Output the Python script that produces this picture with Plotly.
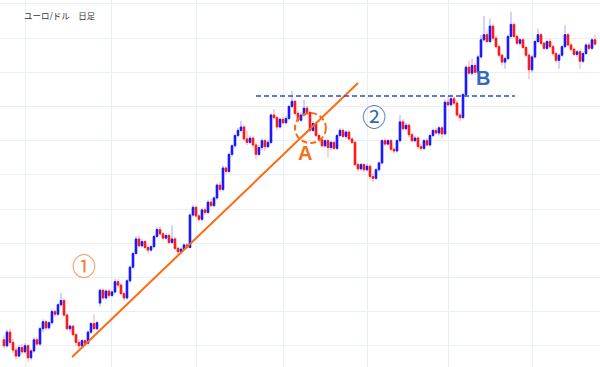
import plotly.graph_objects as go

title_text = "ユーロ/ドル　日足"

opens = [
    1.0635, 1.0600, 1.0680, 1.0620, 1.0575, 1.0540, 1.0590, 1.0565, 1.0600, 1.0530,
    1.0570, 1.0635, 1.0610, 1.0700, 1.0740, 1.0705, 1.0735, 1.0800, 1.0785, 1.0840,
    1.0865, 1.0780, 1.0700, 1.0715, 1.0665, 1.0620, 1.0600, 1.0630, 1.0615, 1.0680,
    1.0730, 1.0700, 1.0850, 1.0925, 1.0880, 1.0920, 1.0895, 1.0915, 1.0975, 1.0955,
    1.0905, 1.0880, 1.0980, 1.1060, 1.1140, 1.1225, 1.1185, 1.1210, 1.1175, 1.1160,
    1.1180, 1.1240, 1.1280, 1.1255, 1.1230, 1.1245, 1.1205, 1.1225, 1.1170, 1.1150,
    1.1165, 1.1190, 1.1175, 1.1365, 1.1410, 1.1360, 1.1340, 1.1395, 1.1380, 1.1440,
    1.1420, 1.1465, 1.1540, 1.1515, 1.1640, 1.1620, 1.1720, 1.1770, 1.1830, 1.1860,
    1.1880, 1.1810, 1.1790, 1.1815, 1.1775, 1.1720, 1.1760, 1.1800, 1.1765, 1.1790,
    1.1950, 1.1935, 1.1880, 1.1925, 1.1905, 1.1930, 1.2000, 1.2030, 1.1960, 1.1920,
    1.1950, 1.1990, 1.1965, 1.1860, 1.1900, 1.1830, 1.1805, 1.1770, 1.1800, 1.1760,
    1.1790, 1.1755, 1.1830, 1.1860, 1.1825, 1.1850, 1.1810, 1.1790, 1.1660, 1.1635,
    1.1660, 1.1630, 1.1650, 1.1590, 1.1580, 1.1630, 1.1670, 1.1800, 1.1780, 1.1800,
    1.1750, 1.1740, 1.1800, 1.1910, 1.1870, 1.1890, 1.1835, 1.1800, 1.1815, 1.1765,
    1.1755, 1.1800, 1.1775, 1.1830, 1.1860, 1.1845, 1.1875, 1.1840, 1.2025, 1.2010,
    1.2045, 1.2020, 1.1950, 1.1935, 1.2070, 1.2230, 1.2195, 1.2240, 1.2200, 1.2290,
    1.2390, 1.2420, 1.2380, 1.2470, 1.2400, 1.2350, 1.2300, 1.2260, 1.2280, 1.2410,
    1.2480, 1.2410, 1.2370, 1.2390, 1.2345, 1.2300, 1.2215, 1.2290, 1.2380, 1.2420,
    1.2370, 1.2340, 1.2380, 1.2350, 1.2310, 1.2270, 1.2300, 1.2350, 1.2420, 1.2360,
    1.2335, 1.2305, 1.2320, 1.2265, 1.2310, 1.2360, 1.2340, 1.2390,
]

highs = [
    1.0660, 1.0695, 1.0700, 1.0640, 1.0590, 1.0605, 1.0610, 1.0615, 1.0610, 1.0580,
    1.0650, 1.0650, 1.0710, 1.0755, 1.0750, 1.0745, 1.0815, 1.0810, 1.0850, 1.0910,
    1.0875, 1.0790, 1.0725, 1.0720, 1.0675, 1.0640, 1.0640, 1.0640, 1.0690, 1.0740,
    1.0785, 1.0745, 1.0935, 1.0935, 1.0930, 1.0930, 1.0925, 1.0990, 1.0990, 1.0965,
    1.0915, 1.0990, 1.1070, 1.1150, 1.1240, 1.1245, 1.1225, 1.1220, 1.1190, 1.1190,
    1.1250, 1.1295, 1.1300, 1.1265, 1.1260, 1.1255, 1.1305, 1.1235, 1.1180, 1.1175,
    1.1200, 1.1200, 1.1375, 1.1425, 1.1420, 1.1370, 1.1405, 1.1410, 1.1455, 1.1460,
    1.1475, 1.1550, 1.1560, 1.1655, 1.1650, 1.1730, 1.1780, 1.1840, 1.1875, 1.1915,
    1.1890, 1.1855, 1.1830, 1.1830, 1.1790, 1.1775, 1.1815, 1.1810, 1.1805, 1.1960,
    1.1985, 1.1945, 1.1935, 1.1940, 1.1945, 1.2010, 1.2090, 1.2040, 1.1975, 1.1965,
    1.2040, 1.2005, 1.1975, 1.1915, 1.1910, 1.1840, 1.1815, 1.1810, 1.1810, 1.1800,
    1.1800, 1.1840, 1.1875, 1.1870, 1.1860, 1.1860, 1.1820, 1.1800, 1.1670, 1.1670,
    1.1670, 1.1665, 1.1660, 1.1610, 1.1640, 1.1680, 1.1810, 1.1815, 1.1810, 1.1810,
    1.1760, 1.1810, 1.1950, 1.1925, 1.1905, 1.1900, 1.1845, 1.1830, 1.1825, 1.1780,
    1.1810, 1.1815, 1.1840, 1.1870, 1.1875, 1.1885, 1.1885, 1.2040, 1.2060, 1.2070,
    1.2060, 1.2035, 1.1960, 1.2080, 1.2240, 1.2270, 1.2280, 1.2255, 1.2300, 1.2420,
    1.2530, 1.2440, 1.2515, 1.2480, 1.2415, 1.2360, 1.2310, 1.2290, 1.2420, 1.2555,
    1.2490, 1.2420, 1.2400, 1.2400, 1.2355, 1.2310, 1.2300, 1.2390, 1.2455, 1.2430,
    1.2380, 1.2390, 1.2395, 1.2360, 1.2320, 1.2310, 1.2360, 1.2475, 1.2430, 1.2370,
    1.2345, 1.2330, 1.2330, 1.2320, 1.2370, 1.2375, 1.2400, 1.2420,
]

lows = [
    1.0585, 1.0590, 1.0605, 1.0560, 1.0520, 1.0530, 1.0550, 1.0555, 1.0505, 1.0515,
    1.0560, 1.0600, 1.0600, 1.0680, 1.0690, 1.0695, 1.0725, 1.0770, 1.0775, 1.0830,
    1.0770, 1.0690, 1.0680, 1.0655, 1.0600, 1.0580, 1.0590, 1.0600, 1.0605, 1.0670,
    1.0690, 1.0690, 1.0830, 1.0870, 1.0870, 1.0880, 1.0885, 1.0905, 1.0940, 1.0895,
    1.0860, 1.0870, 1.0970, 1.1050, 1.1130, 1.1175, 1.1175, 1.1165, 1.1140, 1.1150,
    1.1170, 1.1230, 1.1245, 1.1215, 1.1220, 1.1195, 1.1195, 1.1160, 1.1130, 1.1135,
    1.1155, 1.1165, 1.1170, 1.1355, 1.1350, 1.1325, 1.1330, 1.1365, 1.1370, 1.1410,
    1.1410, 1.1455, 1.1505, 1.1505, 1.1605, 1.1610, 1.1705, 1.1760, 1.1820, 1.1850,
    1.1800, 1.1775, 1.1780, 1.1760, 1.1690, 1.1710, 1.1745, 1.1740, 1.1755, 1.1780,
    1.1925, 1.1860, 1.1870, 1.1895, 1.1895, 1.1920, 1.1990, 1.1950, 1.1905, 1.1910,
    1.1940, 1.1950, 1.1850, 1.1850, 1.1820, 1.1790, 1.1760, 1.1760, 1.1700, 1.1745,
    1.1745, 1.1745, 1.1820, 1.1815, 1.1810, 1.1800, 1.1780, 1.1650, 1.1620, 1.1625,
    1.1615, 1.1620, 1.1575, 1.1555, 1.1570, 1.1620, 1.1660, 1.1770, 1.1770, 1.1740,
    1.1725, 1.1730, 1.1790, 1.1860, 1.1860, 1.1820, 1.1790, 1.1790, 1.1750, 1.1740,
    1.1745, 1.1765, 1.1765, 1.1820, 1.1835, 1.1830, 1.1815, 1.1830, 1.2000, 1.2000,
    1.2005, 1.1940, 1.1915, 1.1925, 1.2060, 1.2185, 1.2180, 1.2185, 1.2190, 1.2280,
    1.2380, 1.2370, 1.2370, 1.2390, 1.2340, 1.2290, 1.2240, 1.2220, 1.2270, 1.2400,
    1.2400, 1.2360, 1.2355, 1.2335, 1.2290, 1.2160, 1.2200, 1.2280, 1.2370, 1.2360,
    1.2330, 1.2330, 1.2340, 1.2295, 1.2255, 1.2220, 1.2290, 1.2340, 1.2350, 1.2320,
    1.2295, 1.2290, 1.2220, 1.2255, 1.2300, 1.2330, 1.2330, 1.2355,
]

closes = [
    1.0600, 1.0680, 1.0620, 1.0575, 1.0540, 1.0590, 1.0565, 1.0600, 1.0530, 1.0570,
    1.0635, 1.0610, 1.0700, 1.0740, 1.0705, 1.0735, 1.0800, 1.0785, 1.0840, 1.0865,
    1.0780, 1.0700, 1.0715, 1.0665, 1.0620, 1.0600, 1.0630, 1.0615, 1.0680, 1.0730,
    1.0700, 1.0735, 1.0925, 1.0880, 1.0920, 1.0895, 1.0915, 1.0975, 1.0955, 1.0905,
    1.0880, 1.0980, 1.1060, 1.1140, 1.1225, 1.1185, 1.1210, 1.1175, 1.1160, 1.1180,
    1.1240, 1.1280, 1.1255, 1.1230, 1.1245, 1.1205, 1.1225, 1.1170, 1.1150, 1.1165,
    1.1190, 1.1175, 1.1365, 1.1410, 1.1360, 1.1340, 1.1395, 1.1380, 1.1440, 1.1420,
    1.1465, 1.1540, 1.1515, 1.1640, 1.1620, 1.1720, 1.1770, 1.1830, 1.1860, 1.1880,
    1.1810, 1.1790, 1.1815, 1.1775, 1.1720, 1.1760, 1.1800, 1.1765, 1.1790, 1.1950,
    1.1935, 1.1880, 1.1925, 1.1905, 1.1930, 1.2000, 1.2030, 1.1960, 1.1920, 1.1950,
    1.1990, 1.1965, 1.1860, 1.1900, 1.1830, 1.1805, 1.1770, 1.1800, 1.1760, 1.1790,
    1.1755, 1.1830, 1.1860, 1.1825, 1.1850, 1.1810, 1.1790, 1.1660, 1.1635, 1.1660,
    1.1630, 1.1650, 1.1590, 1.1580, 1.1630, 1.1670, 1.1800, 1.1780, 1.1800, 1.1750,
    1.1740, 1.1800, 1.1910, 1.1870, 1.1890, 1.1835, 1.1800, 1.1815, 1.1765, 1.1755,
    1.1800, 1.1775, 1.1830, 1.1860, 1.1845, 1.1875, 1.1840, 1.2025, 1.2010, 1.2045,
    1.2020, 1.1950, 1.1935, 1.2070, 1.2230, 1.2195, 1.2240, 1.2200, 1.2290, 1.2390,
    1.2420, 1.2380, 1.2470, 1.2400, 1.2350, 1.2300, 1.2260, 1.2280, 1.2410, 1.2480,
    1.2410, 1.2370, 1.2390, 1.2345, 1.2300, 1.2215, 1.2290, 1.2380, 1.2420, 1.2370,
    1.2340, 1.2380, 1.2350, 1.2310, 1.2270, 1.2300, 1.2350, 1.2420, 1.2360, 1.2335,
    1.2305, 1.2320, 1.2265, 1.2310, 1.2360, 1.2340, 1.2390, 1.2365,
]

days = list(range(len(opens)))

# vertical grid positions (in candle index units) and price grid
grid_days = [7.3, 35.7, 64.3, 93, 121, 148, 176.3]
price_grid_start = 1.06
price_grid_step = 0.02

# annotation anchors (data coordinates)
trend_x = [22.7, 118.0]
trend_y = [1.0535, 1.2137]
neck_x = [84.0, 170.3]
neck_y = 1.2061
circle_x = [97.0, 107.3]
circle_y = [1.1786, 1.1962]
label_a = (100.3, 1.1728)
label_b = (159.7, 1.2167)
label_1 = (26.7, 1.1073)
label_2 = (123.3, 1.1950)

UP = "#1414ff"
DOWN = "#ff1414"
UP_WICK = "rgba(60,60,255,0.45)"
DOWN_WICK = "rgba(255,50,50,0.45)"
ORANGE = "#ff6a10"
BLUE_LINE = "#2a52c0"

fig = go.Figure()

fig.add_trace(go.Candlestick(
    x=days, open=opens, high=highs, low=lows, close=closes,
    increasing=dict(line=dict(color=UP_WICK, width=1), fillcolor=UP_WICK),
    decreasing=dict(line=dict(color=DOWN_WICK, width=1), fillcolor=DOWN_WICK),
    whiskerwidth=0, showlegend=False, hoverinfo="skip",
))

body_hi = [max(o, c) for o, c in zip(opens, closes)]
body_lo = [min(o, c) for o, c in zip(opens, closes)]
fig.add_trace(go.Candlestick(
    x=days, open=opens, high=body_hi, low=body_lo, close=closes,
    increasing=dict(line=dict(color=UP, width=1), fillcolor=UP),
    decreasing=dict(line=dict(color=DOWN, width=1), fillcolor=DOWN),
    whiskerwidth=0, showlegend=False, hoverinfo="skip",
))

fig.add_shape(type="line", x0=trend_x[0], y0=trend_y[0], x1=trend_x[1], y1=trend_y[1],
              xref="x", yref="y", line=dict(color=ORANGE, width=2))
fig.add_shape(type="line", x0=neck_x[0], y0=neck_y, x1=neck_x[1], y1=neck_y,
              xref="x", yref="y", line=dict(color=BLUE_LINE, width=1.6, dash="5px,3px"))
fig.add_shape(type="circle", x0=circle_x[0], y0=circle_y[0], x1=circle_x[1], y1=circle_y[1],
              xref="x", yref="y", line=dict(color=ORANGE, width=2, dash="6px,3px"))

fig.add_annotation(x=label_a[0], y=label_a[1], text="<b>A</b>", showarrow=False,
                   font=dict(family="Liberation Sans, Arial", size=20, color="#f4701e"))
fig.add_annotation(x=label_b[0], y=label_b[1], text="<b>B</b>", showarrow=False,
                   font=dict(family="Liberation Sans, Arial", size=20, color="#3467be"))
fig.add_annotation(x=label_1[0], y=label_1[1], text="①", showarrow=False,
                   font=dict(family="Noto Sans CJK JP", size=24, color="#f5823a"))
fig.add_annotation(x=label_2[0], y=label_2[1], text="②", showarrow=False,
                   font=dict(family="Noto Sans CJK JP", size=24, color="#3067b5"))
fig.add_annotation(x=22 / 600, y=1 - 15 / 367, xref="paper", yref="paper",
                   xanchor="left", yanchor="middle", text=title_text, showarrow=False,
                   font=dict(family="Noto Sans CJK JP", size=8.5, color="#333333"))

fig.update_layout(
    width=600, height=367,
    margin=dict(l=0, r=0, t=0, b=0),
    paper_bgcolor="white", plot_bgcolor="white",
    showlegend=False,
    xaxis=dict(range=[-1.333, 198.667], tickmode="array", tickvals=grid_days,
               showticklabels=False, ticks="", showgrid=True, gridcolor="#e8eff6",
               gridwidth=1, zeroline=False, showline=False,
               rangeslider=dict(visible=False), fixedrange=True),
    yaxis=dict(range=[1.0476, 1.2623], tickmode="linear", tick0=price_grid_start,
               dtick=price_grid_step, showticklabels=False, ticks="", showgrid=True,
               gridcolor="#e8eff6", gridwidth=1, zeroline=False, showline=False,
               fixedrange=True),
)

fig.write_html(
    "out.html",
    config={"displayModeBar": False, "staticPlot": True},
    post_script="document.body.style.margin='0';document.body.style.overflow='hidden';",
)
